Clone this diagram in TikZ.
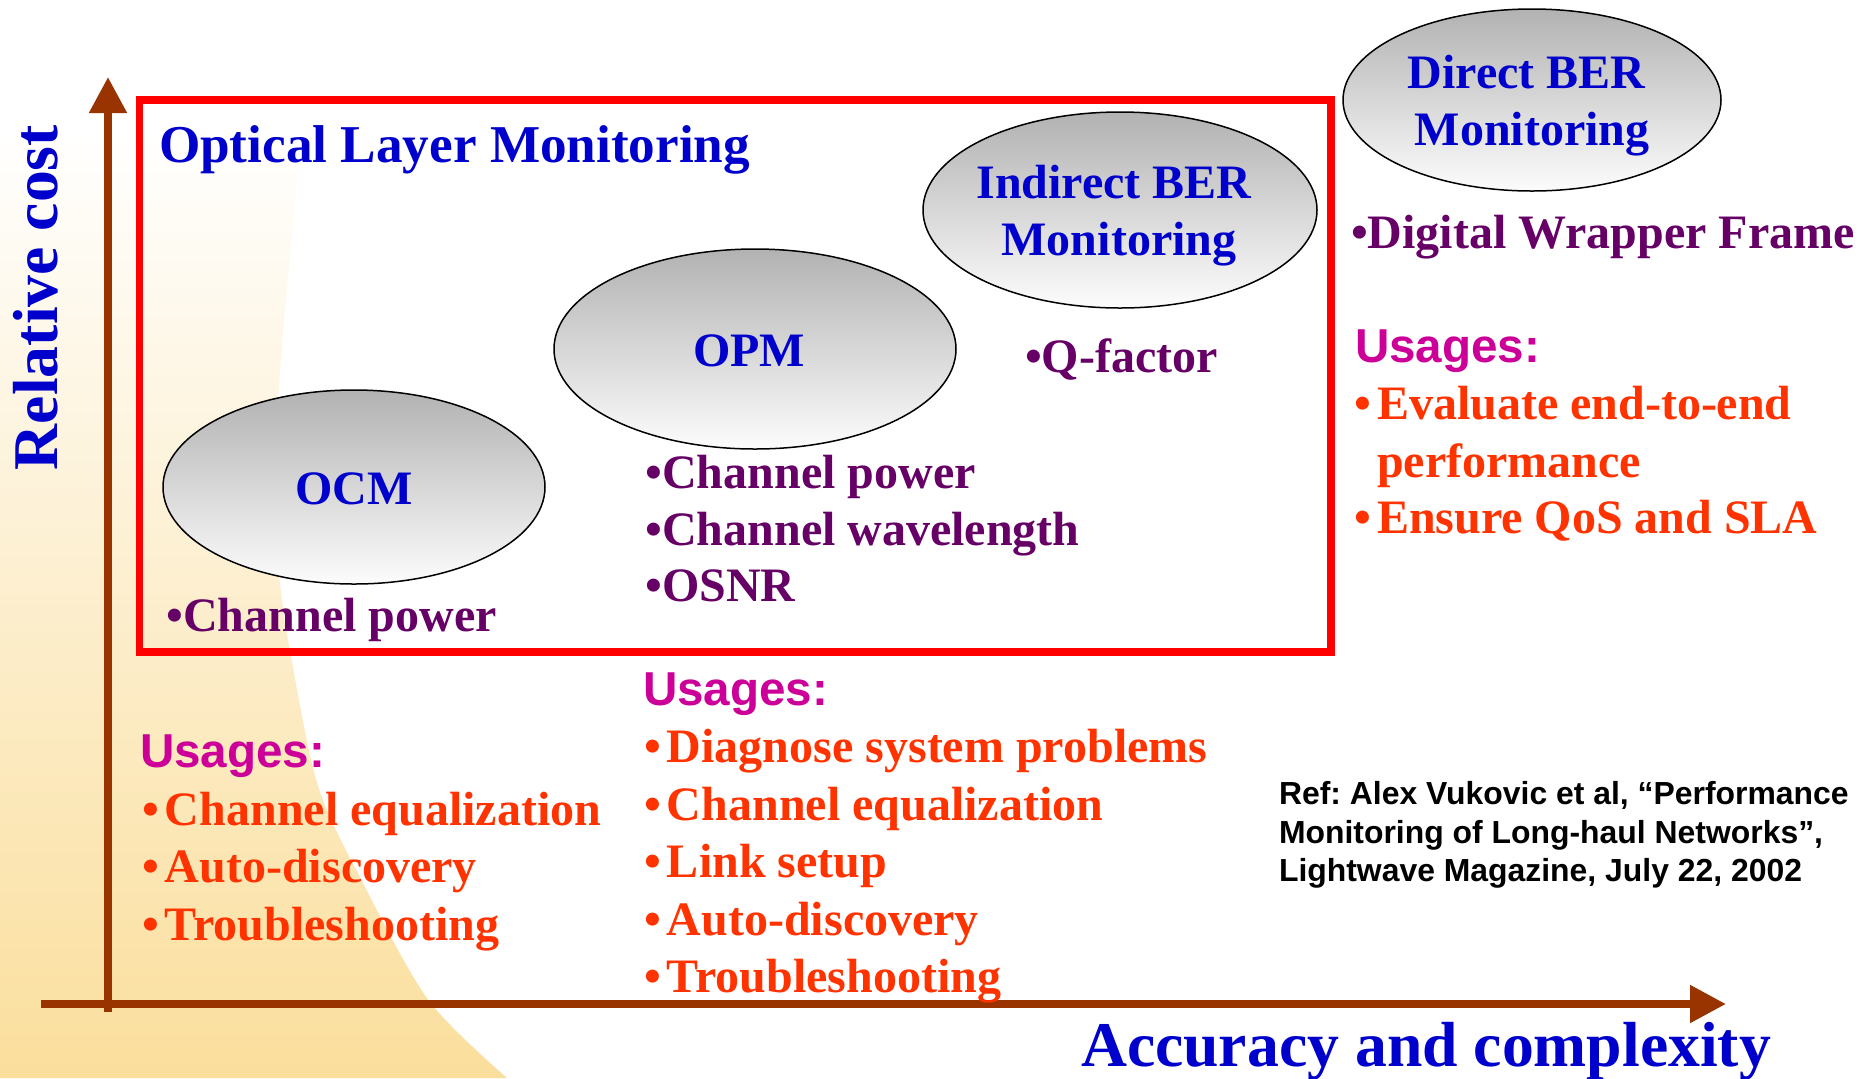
\documentclass[tikz,border=0pt]{standalone}
\usepackage{fontspec}
\setmainfont{Liberation Serif}
\newfontfamily\arialfam{Liberation Sans}
\usetikzlibrary{arrows.meta,shapes.geometric}
\frenchspacing

\definecolor{titleblue}{HTML}{0000CC}
\definecolor{itempurple}{HTML}{660066}
\definecolor{usemagenta}{HTML}{CC0099}
\definecolor{useorange}{HTML}{FF3300}
\definecolor{axisbrown}{HTML}{993300}
\definecolor{boxred}{HTML}{FF0000}
\definecolor{sandlight}{HTML}{FADE9C}
\definecolor{ovaltop}{HTML}{B2B2B2}
\definecolor{ovalbottom}{HTML}{FCFCFC}

\newcommand{\itemdot}{\makebox[11.5pt][l]{\textbullet}}

\tikzset{
  txt/.style={inner sep=0pt, outer sep=0pt, anchor=base west},
  serifbody/.style={font=\fontsize{24}{28.7}\selectfont\bfseries},
  ovallabel/.style={serifbody, text=titleblue, inner sep=0pt, anchor=base},
  feature/.style={txt, serifbody, text=itempurple},
  usagehead/.style={txt, font=\arialfam\fontsize{23.8}{28.7}\selectfont\bfseries, text=usemagenta},
  usage/.style={txt, serifbody, text=useorange},
  axislabel/.style={txt, font=\fontsize{31.85}{38}\selectfont\bfseries, text=titleblue},
  grouptitle/.style={txt, font=\fontsize{26.6}{32}\selectfont\bfseries, text=titleblue},
  reftext/.style={txt, font=\arialfam\fontsize{15.95}{19.2}\selectfont\bfseries, text=black},
  axisline/.style={draw=axisbrown, line width=4pt, -{Triangle[length=18pt,width=18pt]}},
  olmframe/.style={draw=boxred, line width=3.75pt, inner sep=0pt, outer sep=0pt},
  oval/.style={ellipse, draw=black, line width=0.75pt, top color=ovaltop,
               bottom color=ovalbottom, inner sep=0pt},
}

\begin{document}
\begin{tikzpicture}[x=0.5pt,y=-0.5pt]
\useasboundingbox (0,0) rectangle (1874,1078);
\fill[white] (0,0) rectangle (1874,1078);

% warm backdrop along the left edge, fading out towards the top
\shade[top color=white, bottom color=sandlight]
  plot[smooth] coordinates {(303,130) (297,184) (282,344) (273,497)
    (280,584) (290,651) (318,786) (365,887) (429,1001) (507,1078)}
  -- (0,1078) -- (0,130) -- cycle;

% axes
\coordinate (yfoot) at (108,1012);
\coordinate (ytip) at (108,77);
\coordinate (xfoot) at (41,1004);
\coordinate (xtip) at (1726,1004);
\draw[axisline] (yfoot) -- (ytip);
\draw[axisline] (xfoot) -- (xtip);

\node[axislabel, rotate=90] (ylabel) at (57.4,470) {Relative cost};
\node[axislabel] (xlabel) at (1081,1066) {Accuracy and complexity};

% optical layer frame
\node[olmframe, minimum width=595.65pt, minimum height=276pt, anchor=north west]
  (olm) at (139.7,100) {};
\node[grouptitle] (olmtitle) at (159,162.6) {Optical Layer Monitoring};

% monitoring techniques
\node[oval, minimum width=191pt, minimum height=97pt] (ocm) at (354,487) {};
\node[oval, minimum width=201pt, minimum height=100pt] (opm) at (755,349) {};
\node[oval, minimum width=197pt, minimum height=98pt] (iber) at (1120,210) {};
\node[oval, minimum width=189pt, minimum height=91pt] (dber) at (1532,100) {};

\node[ovallabel] (ocmname) at (354,504.4) {OCM};
\node[ovallabel] (opmname) at (749,366.7) {OPM};
\node[ovallabel] (ibername) at (1114,198.3) {Indirect BER};
\node[ovallabel] (ibermon) at (1119,255.5) {Monitoring};
\node[ovallabel] (dbername) at (1526.6,88.3) {Direct BER};
\node[ovallabel] (dbermon) at (1532,145.7) {Monitoring};

% measured quantities
\node[feature] (ocmf1) at (166.5,631) {\textbullet Channel power};
\node[feature] (opmf1) at (645.5,488.3) {\textbullet Channel power};
\node[feature] (opmf2) at (645.5,545) {\textbullet Channel wavelength};
\node[feature] (opmf3) at (645.5,601.7) {\textbullet OSNR};
\node[feature] (iberf1) at (1025,372) {\textbullet Q-factor};
\node[feature] (dberf1) at (1351,248.5) {\textbullet Digital Wrapper Frame};

% usages: OCM
\node[usagehead] (ocmuse) at (140,767) {Usages:};
\node[usage] (ocmu1) at (142,825) {\itemdot Channel equalization};
\node[usage] (ocmu2) at (142,882) {\itemdot Auto-discovery};
\node[usage] (ocmu3) at (142,940) {\itemdot Troubleshooting};

% usages: OPM
\node[usagehead] (opmuse) at (643,705) {Usages:};
\node[usage] (opmu1) at (644,762) {\itemdot Diagnose system problems};
\node[usage] (opmu2) at (644,820) {\itemdot Channel equalization};
\node[usage] (opmu3) at (644,877) {\itemdot Link setup};
\node[usage] (opmu4) at (644,935) {\itemdot Auto-discovery};
\node[usage] (opmu5) at (644,992) {\itemdot Troubleshooting};

% usages: direct BER
\node[usagehead] (dberuse) at (1355,362.7) {Usages:};
\node[usage] (dberu1) at (1354,419) {\itemdot Evaluate end-to-end};
\node[usage] (dberu1b) at (1354,477) {\hspace*{11.5pt}performance};
\node[usage] (dberu2) at (1354,533.5) {\itemdot Ensure QoS and SLA};

% reference
\node[reftext] (ref1) at (1279,804) {Ref: Alex Vukovic et al, “Performance};
\node[reftext] (ref2) at (1279,843) {Monitoring of Long-haul Networks”,};
\node[reftext] (ref3) at (1279,881) {Lightwave Magazine, July 22, 2002};
\end{tikzpicture}
\end{document}
